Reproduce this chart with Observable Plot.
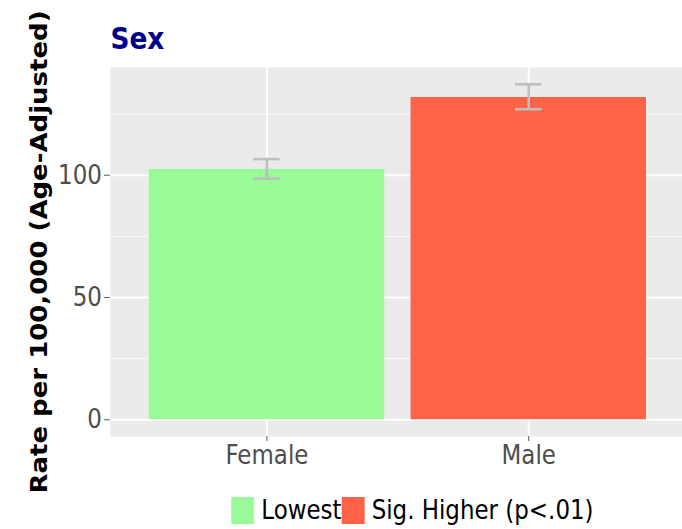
<!DOCTYPE html>
<html>
<head>
<meta charset="utf-8">
<script src="https://cdn.jsdelivr.net/npm/d3@7"></script>
<script src="https://cdn.jsdelivr.net/npm/@observablehq/plot@0.6"></script>
<style>
  html, body { margin: 0; padding: 0; background: #fff; overflow: hidden; width: 682px; height: 529px; }
  #wrap { position: absolute; left: 0; top: 0; width: 803px; height: 529px; transform: scaleX(0.85); transform-origin: 0 0; font-family: "DejaVu Sans", sans-serif; }
  #title { position: absolute; left: 130px; top: 23px; font-size: 31px; line-height: 31px; font-weight: bold; color: #00008B; white-space: nowrap; }
  #chart { position: absolute; left: 0; top: 0; }
  #legend { position: absolute; left: 272px; top: 497px; display: flex; align-items: flex-start; white-space: nowrap; }
  .item { display: flex; align-items: flex-start; }
  .key { display: inline-block; width: 27.4px; height: 26.6px; margin-right: 8px; }
  .lab { font-size: 27px; line-height: 26.6px; color: #000; }
</style>
</head>
<body>
<div id="wrap">
  <div id="chart"></div>
  <div id="title">Sex</div>
  <div id="legend"></div>
</div>
<script>
const categories = ["Female", "Male"];
const rates = [102.4, 131.8];
const lower = [98.6, 127.0];
const upper = [106.6, 137.2];
const groups = ["Lowest", "Sig. Higher (p<.01)"];
const barGroup = ["Lowest", "Sig. Higher (p<.01)"];
const groupColors = ["#98FB98", "#FF6347"];
const yTicks = [0, 50, 100];
const yMinorTicks = [25, 75, 125];
const titleText = "Sex";
const yLabel = "Rate per 100,000 (Age-Adjusted)";

const data = categories.map((c, i) => ({sex: c, rate: rates[i], lo: lower[i], hi: upper[i], grp: barGroup[i]}));
const maxV = d3.max(upper);

const W = 803, H = 529;
const left = 129.4, right = 806.7;
const bandRange = [left, right];
const step = (right - left) / 2.198;
const bw = step * 0.9;
const capW = 31.4;

const chart = Plot.plot({
  width: W,
  height: H,
  marginLeft: left,
  marginRight: 0,
  marginTop: 67,
  marginBottom: 93,
  style: {fontFamily: "DejaVu Sans", fontSize: "27px", background: "transparent", overflow: "visible"},
  x: {type: "band", domain: categories, range: bandRange, paddingInner: 0.1, paddingOuter: 0.149, align: 0.5, label: null},
  y: {domain: [-0.05 * maxV, 1.05 * maxV], label: null},
  color: {domain: groups, range: groupColors},
  marks: [
    Plot.frame({fill: "#EBEBEB", stroke: "none"}),
    Plot.gridY(yMinorTicks, {stroke: "white", strokeOpacity: 1, strokeWidth: 0.9}),
    Plot.gridY(yTicks, {stroke: "white", strokeOpacity: 1, strokeWidth: 1.8}),
    Plot.gridX(categories, {stroke: "white", strokeOpacity: 1, strokeWidth: 2.1}),
    Plot.barY(data, {x: "sex", y: "rate", fill: "grp"}),
    Plot.ruleX(data, {x: "sex", y1: "lo", y2: "hi", stroke: "#BEBEBE", strokeWidth: 3}),
    Plot.tickY(data, {x: "sex", y: "hi", stroke: "#BEBEBE", strokeWidth: 2.6, insetLeft: (bw - capW) / 2, insetRight: (bw - capW) / 2}),
    Plot.tickY(data, {x: "sex", y: "lo", stroke: "#BEBEBE", strokeWidth: 2.6, insetLeft: (bw - capW) / 2, insetRight: (bw - capW) / 2}),
    Plot.axisY(yTicks, {tickSize: 7, tickPadding: 3, fontSize: 27, color: "#4D4D4D", label: null}),
    Plot.axisX({tickSize: 5, tickPadding: 3, fontSize: 27, color: "#4D4D4D", label: null}),
    Plot.text([yLabel], {frameAnchor: "left", textAnchor: "middle", dx: -82.4, rotate: -90, fontSize: 26, fontWeight: "bold", fill: "black"})
  ]
});
document.getElementById("chart").appendChild(chart);
document.getElementById("title").textContent = titleText;

const legend = document.getElementById("legend");
groups.forEach((g, i) => {
  const item = document.createElement("div");
  item.className = "item";
  const key = document.createElement("span");
  key.className = "key";
  key.style.background = groupColors[i];
  const lab = document.createElement("span");
  lab.className = "lab";
  lab.textContent = g;
  item.appendChild(key);
  item.appendChild(lab);
  legend.appendChild(item);
});
</script>
</body>
</html>
